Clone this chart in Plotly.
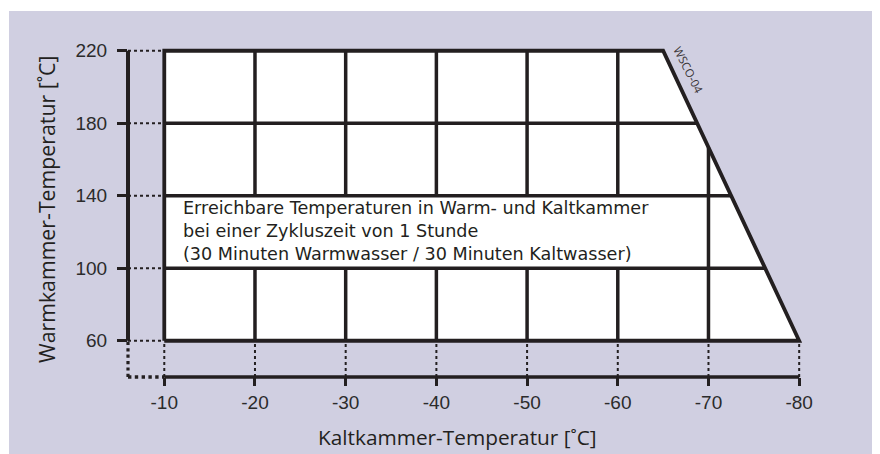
import numpy as np
import plotly.graph_objects as go

# ---- data ----
cold_ticks = [-10, -20, -30, -40, -50, -60, -70, -80]      # Kaltkammer [°C]
warm_ticks = [60, 100, 140, 180, 220]                      # Warmkammer [°C]
boundary_cold = [-10, -10, -65, -80]                       # reachable area outline
boundary_warm = [60, 220, 220, 60]
note_lines = [
    "Erreichbare Temperaturen in Warm- und Kaltkammer",
    "bei einer Zykluszeit von 1 Stunde",
    "(30 Minuten Warmwasser / 30 Minuten Kaltwasser)",
]
x_title = "Kaltkammer-Temperatur [˚C]"
y_title = "Warmkammer-Temperatur [˚C]"
code_label = "WSCO-04"

# ---- layout geometry ----
W, H = 880, 454
OFF = 8              # page body margin
ML, MR, MT, MB = 120, 20, 12, 85
PW, PH = W - ML - MR, H - MT - MB
x_axis_pos = -6      # value where the warm axis sits
y_axis_pos = 40      # value where the cold axis sits
px_per_x = 9.07
px_per_y = 1.8125
x_range = [x_axis_pos, x_axis_pos - PW / px_per_x]
y_range = [y_axis_pos, y_axis_pos + PH / px_per_y]

INK = "#231f20"
BG = "#d0cfe1"

def px2paper(sx, sy):
    fx, fy = sx - OFF, sy - OFF
    return (fx - ML) / PW, (H - MB - fy) / PH

# slanted edge
slant_c = [boundary_cold[3], boundary_cold[2]]   # -80, -65
slant_w = [boundary_warm[3], boundary_warm[2]]   # 60, 220
top_w = max(boundary_warm)
bot_w = min(boundary_warm)
left_c = max(boundary_cold)

note_band = (100, 140)
note_right = -66

fig = go.Figure()

# white reachable area
fig.add_trace(go.Scatter(
    x=boundary_cold + [boundary_cold[0]], y=boundary_warm + [boundary_warm[0]],
    fill="toself", fillcolor="white", mode="lines", line=dict(width=0),
    hoverinfo="skip", showlegend=False))

# inner grid
gx, gy = [], []
for w in warm_ticks:
    if w in (top_w, bot_w):
        continue
    right = float(np.interp(w, slant_w, slant_c))
    gx += [left_c, right, None]
    gy += [w, w, None]
for c in cold_ticks:
    if c == left_c or c == min(cold_ticks):
        continue
    top = float(np.interp(c, slant_c, slant_w))
    if c > note_right:
        gx += [c, c, None, c, c, None]
        gy += [bot_w, note_band[0], None, note_band[1], top, None]
    else:
        gx += [c, c, None]
        gy += [bot_w, top, None]
fig.add_trace(go.Scatter(x=gx, y=gy, mode="lines",
                         line=dict(color=INK, width=3.5),
                         hoverinfo="skip", showlegend=False))

# outline
fig.add_trace(go.Scatter(
    x=boundary_cold + [boundary_cold[0]], y=boundary_warm + [boundary_warm[0]],
    mode="lines", line=dict(color=INK, width=3.8),
    hoverinfo="skip", showlegend=False))

shapes = []
# background panel
x0p, y1p = px2paper(9, 11)
x1p, y0p = px2paper(890, 464)
shapes.append(dict(type="rect", xref="paper", yref="paper", x0=x0p, x1=x1p,
                   y0=y0p, y1=y1p, fillcolor=BG, line=dict(width=0), layer="below"))
# axis lines
shapes.append(dict(type="line", xref="paper", yref="y", x0=0, x1=0,
                   y0=bot_w, y1=top_w, line=dict(color=INK, width=4)))
shapes.append(dict(type="line", xref="x", yref="paper", x0=left_c, x1=min(cold_ticks),
                   y0=0, y1=0, line=dict(color=INK, width=3.6)))
# dotted corner extensions
shapes.append(dict(type="line", xref="paper", yref="y", x0=0, x1=0,
                   y0=y_axis_pos, y1=bot_w, line=dict(color=INK, width=3.2, dash="dot")))
shapes.append(dict(type="line", xref="x", yref="paper", x0=x_axis_pos, x1=left_c,
                   y0=0, y1=0, line=dict(color=INK, width=3.4, dash="dot")))
# thin dotted leaders
for w in warm_ticks:
    shapes.append(dict(type="line", xref="x", yref="y", x0=x_axis_pos, x1=left_c,
                       y0=w, y1=w, line=dict(color=INK, width=2, dash="dot")))
for c in cold_ticks:
    shapes.append(dict(type="line", xref="x", yref="y", x0=c, x1=c,
                       y0=y_axis_pos, y1=bot_w, line=dict(color=INK, width=2, dash="dot")))

annotations = []
nx_, ny_ = px2paper(181, 231)
annotations.append(dict(text="<br>".join(note_lines), xref="paper", yref="paper",
                        x=nx_, y=ny_, xanchor="left", yanchor="middle", align="left",
                        showarrow=False,
                        font=dict(family="DejaVu Sans", size=17.6, color=INK)))
ax_, ay_ = px2paper(457, 437)
annotations.append(dict(text=x_title, xref="paper", yref="paper", x=ax_, y=ay_,
                        xanchor="center", yanchor="middle", showarrow=False,
                        font=dict(family="Open Sans", size=20.8, color=INK)))
bx_, by_ = px2paper(46, 210)
annotations.append(dict(text=y_title, xref="paper", yref="paper", x=bx_, y=by_,
                        xanchor="center", yanchor="middle", showarrow=False, textangle=-90,
                        font=dict(family="Open Sans", size=21.3, color=INK)))
cx_, cy_ = px2paper(688, 70)
annotations.append(dict(text=code_label, xref="paper", yref="paper", x=cx_, y=cy_,
                        xanchor="center", yanchor="middle", showarrow=False, textangle=63,
                        font=dict(family="Open Sans", size=11.5, color="#3a3536")))

tick_font = dict(family="Liberation Sans, Arial", size=19, color="#2b2b2b")
fig.update_layout(
    width=W, height=H,
    margin=dict(l=ML, r=MR, t=MT, b=MB),
    paper_bgcolor="white", plot_bgcolor="rgba(0,0,0,0)",
    shapes=shapes, annotations=annotations, showlegend=False,
    xaxis=dict(range=x_range, tickvals=cold_ticks, ticktext=[str(v) for v in cold_ticks],
               ticks="outside", ticklen=8, tickwidth=3.4, tickcolor=INK,
               showgrid=False, zeroline=False, showline=False, tickfont=tick_font,
               fixedrange=True),
    yaxis=dict(range=y_range, tickvals=warm_ticks, ticktext=[str(v) for v in warm_ticks],
               ticks="outside", ticklen=10, tickwidth=3.4, tickcolor=INK,
               showgrid=False, zeroline=False, showline=False, tickfont=tick_font,
               ticklabelstandoff=6, fixedrange=True),
)

fig.write_html("out.html")
